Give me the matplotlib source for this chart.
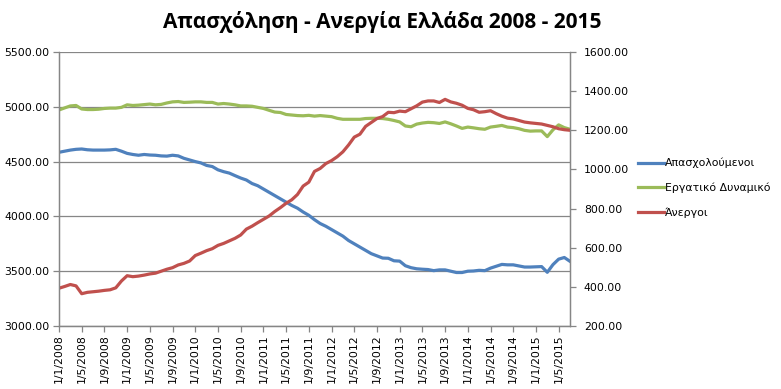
"""Employment / unemployment in Greece 2008-2015, dual axis line chart."""

import matplotlib
matplotlib.use("Agg")
import matplotlib.pyplot as plt
import numpy as np
from matplotlib.ticker import FormatStrFormatter

# monthly, 1/1/2008 .. 1/7/2015 (thousands)
months = [f"1/{m}/{y}" for y in range(2008, 2016) for m in range(1, 13)][:91]

employed = [
    4585, 4595, 4605, 4612, 4615, 4608, 4605, 4605, 4605, 4607, 4612, 4595,
    4575, 4565, 4558, 4565, 4560, 4558, 4552, 4550, 4558, 4552, 4530, 4515,
    4500, 4488, 4465, 4455, 4425, 4408, 4395, 4372, 4350, 4332, 4300, 4280,
    4250, 4220, 4190, 4160, 4130, 4100, 4075, 4040, 4010, 3970, 3935, 3910,
    3880, 3850, 3820, 3780, 3750, 3720, 3690, 3660, 3640, 3620, 3618, 3595,
    3592, 3550, 3532, 3522, 3518, 3515, 3505, 3512, 3512, 3500, 3488, 3488,
    3500, 3502, 3508, 3505, 3528, 3545, 3562, 3558, 3558, 3548, 3538, 3538,
    3540, 3542, 3490, 3560, 3610, 3625, 3590,
]

labour_force = [
    4971, 4990, 5008, 5012, 4980, 4975, 4975, 4978, 4985, 4988, 4988, 4995,
    5018, 5012, 5015, 5020, 5025, 5018, 5022, 5035, 5045, 5048, 5040, 5042,
    5045, 5045, 5040, 5040, 5025, 5030, 5025, 5018, 5008, 5008, 5005, 4995,
    4985, 4968, 4952, 4948, 4930, 4925, 4920, 4918, 4922, 4915, 4920, 4915,
    4910, 4895, 4886, 4886, 4886, 4886, 4893, 4895, 4895, 4893, 4886, 4875,
    4862, 4825, 4818, 4842, 4852, 4858, 4855, 4848, 4862, 4845, 4825, 4803,
    4815, 4808, 4800, 4795, 4815, 4822, 4830, 4815, 4810, 4800, 4785, 4778,
    4780, 4780, 4728, 4790, 4835, 4810, 4795,
]

unemployed = [
    393, 402, 412, 405, 365, 372, 375, 378, 382, 385, 395, 430,
    457, 452, 455, 460, 466, 470, 480, 490, 498, 512, 520, 532,
    560, 572, 585, 595, 612, 622, 635, 648, 665, 695, 710, 728,
    745, 762, 785, 805, 827, 845, 872, 915, 935, 990, 1005, 1030,
    1045, 1065, 1090, 1125, 1165, 1180, 1220, 1240, 1260, 1270, 1292, 1290,
    1298, 1295, 1310, 1325, 1344, 1350, 1350, 1342, 1358, 1345, 1338, 1328,
    1312, 1305, 1292, 1295, 1300, 1285, 1272, 1262, 1258, 1250, 1242, 1238,
    1235, 1232, 1225, 1218, 1208, 1203, 1200,
]

labels = ["Απασχολούμενοι", "Εργατικό Δυναμικό", "Άνεργοι"]
colors = ["#4F81BD", "#9BBB59", "#C0504D"]
grey = "#868686"

x = np.arange(len(months))

fig = plt.figure(figsize=(7.81, 3.89), dpi=100)
ax = fig.add_axes([59 / 781, 63 / 389, 511 / 781, 274 / 389])
ax2 = ax.twinx()

l1, = ax.plot(x, employed, color=colors[0], lw=2.3, label=labels[0])
l2, = ax.plot(x, labour_force, color=colors[1], lw=2.3, label=labels[1])
l3, = ax2.plot(x, unemployed, color=colors[2], lw=2.3, label=labels[2])

ax.set_xlim(0, len(months) - 1)
ax.set_ylim(3000, 5500)
ax.set_yticks(np.arange(3000, 5501, 500))
ax2.set_ylim(200, 1600)
ax2.set_yticks(np.arange(200, 1601, 200))
ax.yaxis.set_major_formatter(FormatStrFormatter("%.2f"))
ax2.yaxis.set_major_formatter(FormatStrFormatter("%.2f"))

ax.set_xticks(x[::4])
ax.set_xticklabels(months[::4], rotation=90, va="top", ha="center")

ax.grid(axis="y", color=grey, lw=0.9)
ax.set_axisbelow(True)

for a in (ax, ax2):
    for s in a.spines.values():
        s.set_color(grey)
        s.set_linewidth(0.9)
    a.spines["top"].set_visible(False)
    a.tick_params(colors=grey, labelcolor="black", labelsize=7.8, length=4, width=0.9)
ax.tick_params(axis="x", pad=2)
ax.tick_params(axis="y", pad=3)
ax2.tick_params(axis="y", pad=6)

fig.legend(handles=[l1, l2, l3], loc="upper left",
           bbox_to_anchor=(638 / 781, 1 - 158 / 389), frameon=False,
           fontsize=7.8, handlelength=2.4, handletextpad=0.1, labelspacing=1.3,
           borderpad=0, borderaxespad=0)

fig.text(0.49, 1 - 22 / 389, "Απασχόληση - Ανεργία Ελλάδα 2008 - 2015",
         ha="center", va="center", fontsize=15, fontweight="bold",
         family=["Liberation Sans Narrow", "Open Sans", "DejaVu Sans"])

fig.savefig("out.png", dpi=100)
